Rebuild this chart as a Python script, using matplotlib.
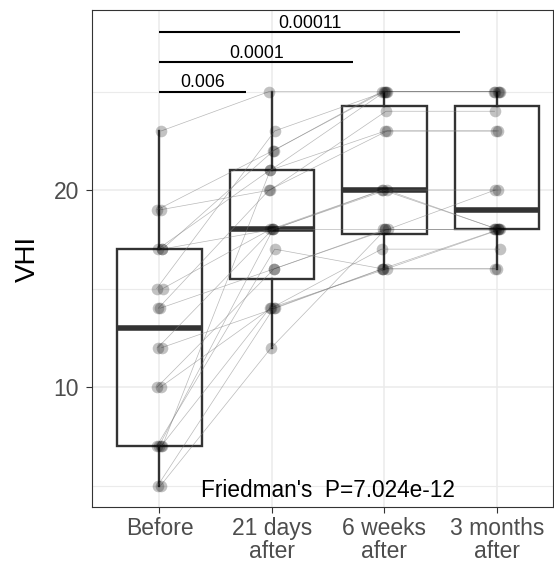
import numpy as np
import matplotlib
matplotlib.use("Agg")
import matplotlib.pyplot as plt

plt.rcParams['font.family'] = ['Liberation Sans', 'DejaVu Sans']

# Datos: VHI por sujeto (20 sujetos, medidas pareadas)
groups = ['Before', '21 days\nafter', '6 weeks\nafter', '3 months\nafter']
before = [23, 19, 19, 17, 17, 17, 15, 15, 14, 14, 12, 12, 10, 10, 7, 7, 7, 7, 5, 5]
days21 = [25, 22, 20, 22, 21, 18, 23, 18, 16, 20, 14, 18, 14, 16, 21, 18, 14, 17, 12, 14]
weeks6 = [25, 25, 24, 25, 23, 20, 25, 20, 18, 23, 16, 20, 17, 18, 25, 18, 16, 16, 18, 16]
months3 = [25, 25, 24, 25, 23, 18, 25, 20, 18, 23, 16, 18, 17, 20, 25, 18, 18, 16, 18, 18]

# desplazamiento horizontal de cada punto (jitter leido a ojo)
jitter = [0.015, -0.02, 0.01, 0.025, -0.015, 0.02, -0.025, 0.03, 0.005, -0.01,
          0.02, -0.015, 0.01, -0.02, 0.025, -0.005, 0.015, -0.025, 0.01, -0.015]

# comparaciones por pares
pairs_x1 = [1, 1, 1]
pairs_x2 = [1.77, 2.72, 3.67]
pairs_y = [25.0, 26.5, 28.0]
pairs_label = ['0.006', '0.0001', '0.00011']
friedman_text = "Friedman's  P=7.024e-12"

data = [before, days21, weeks6, months3]
pos = np.arange(1, len(groups) + 1)

fig = plt.figure(figsize=(5.54, 5.67), dpi=100)
ax = fig.add_axes([92 / 554, 1 - 507 / 567, 461 / 554, 497 / 567])

ax.set_xlim(0.4, 4.5)
ax.set_ylim(3.91, 29.14)

# cajas
box_col = '#333333'
ax.boxplot(data, positions=pos, widths=0.75, whis=1.5, showfliers=False,
           patch_artist=True, showcaps=False,
           boxprops=dict(facecolor='none', edgecolor=box_col, linewidth=1.7),
           whiskerprops=dict(color=box_col, linewidth=1.7),
           medianprops=dict(color=box_col, linewidth=4, solid_capstyle='butt'),
           zorder=2)

# lineas por sujeto y puntos
xs = [np.full(len(d), p) + np.roll(jitter, i * 3) for i, (d, p) in enumerate(zip(data, pos))]
ys = [np.array(d) for d in data]
for s in range(len(before)):
    ax.plot([x[s] for x in xs], [y[s] for y in ys], color='gray', lw=0.5, alpha=0.55, zorder=3)
for x, y in zip(xs, ys):
    ax.scatter(x, y, s=70, color='black', alpha=0.24, linewidths=0, zorder=4)

# barras de significancia
for x1, x2, y, lab in zip(pairs_x1, pairs_x2, pairs_y, pairs_label):
    ax.plot([x1, x2], [y, y], color='black', lw=1.5, solid_capstyle='butt', zorder=5)
    ax.text((x1 + x2) / 2, y + 0.22, lab, ha='center', va='baseline', fontsize=12.7, color='black')

ax.text(2.5, 4.77, friedman_text, ha='center', va='center', fontsize=16.3, color='black')

# estilo tipo theme_bw
ax.set_xticks(pos)
ax.set_xticklabels(groups, linespacing=1.0)
ax.set_yticks([10, 20])
ax.set_yticks([5, 15, 25], minor=True)
ax.grid(True, which='major', color='#EBEBEB', lw=1.1, zorder=0)
ax.grid(True, which='minor', axis='y', color='#EBEBEB', lw=0.8, zorder=0)
ax.set_axisbelow(True)
ax.tick_params(axis='both', which='major', length=4.3, width=0.8, color='#333333',
               labelsize=16.5, labelcolor='#4D4D4D', pad=3)
ax.tick_params(axis='y', pad=5)
ax.tick_params(which='minor', length=0)
for sp in ax.spines.values():
    sp.set_color('#333333')
    sp.set_linewidth(0.8)

ax.set_ylabel('VHI', fontsize=20, color='black', va='center')
ax.yaxis.set_label_coords(-0.139, 0.5)

fig.savefig('out.png', dpi=100)
